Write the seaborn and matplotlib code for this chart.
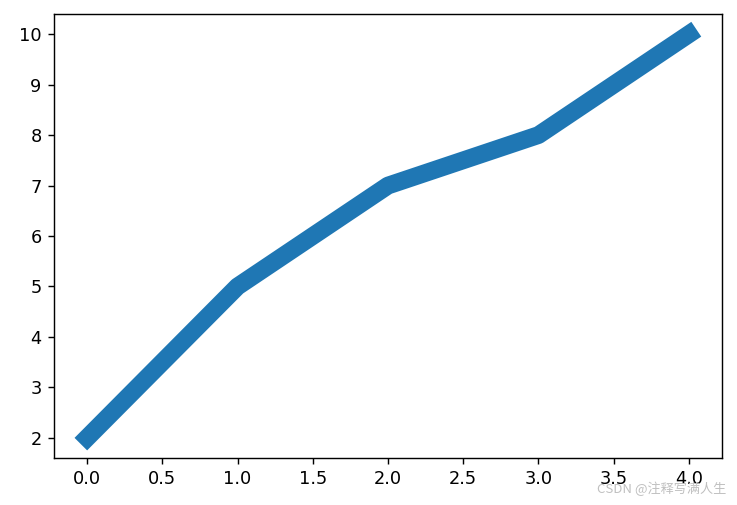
import matplotlib
matplotlib.use("Agg")
import matplotlib.pyplot as plt
import seaborn as sns
import pandas as pd

x_values = [0, 1, 2, 3, 4]
y_values = [2, 5, 7, 8, 10]

df = pd.DataFrame({"x": x_values, "y": y_values})

fig = plt.figure(figsize=(737/128, 505/128), dpi=128)
ax = fig.add_axes([54/737, 1-458/505, (722-54)/737, (458-14)/505])
sns.lineplot(data=df, x="x", y="y", ax=ax, linewidth=10, color="#1f77b4")
for line in ax.get_lines():
    line.set_solid_capstyle("projecting")
ax.set_xlabel("")
ax.set_ylabel("")
ax.set_xticks([0.0, 0.5, 1.0, 1.5, 2.0, 2.5, 3.0, 3.5, 4.0])
ax.set_xlim(-0.22, 4.22)
ax.set_ylim(1.6, 10.4)

fig.text(0.986, 0.017, "CSDN @注释写满人生", ha="right", va="bottom",
         fontsize=7.4, color="#c0c0c0",
         family=["Noto Sans CJK SC", "DejaVu Sans"])

fig.savefig("out.png", dpi=128)
